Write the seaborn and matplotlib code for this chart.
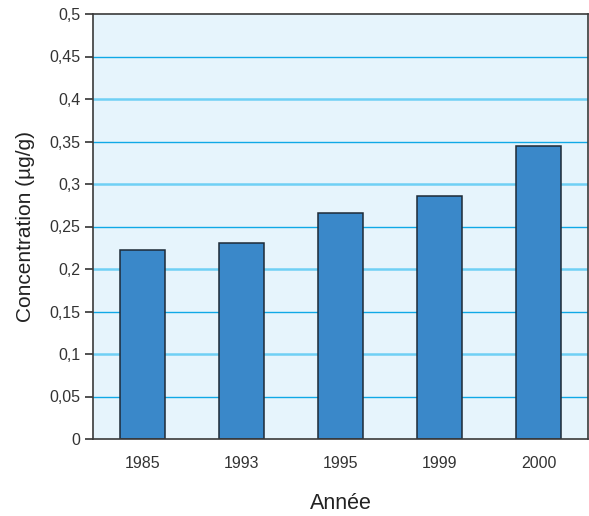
import matplotlib
matplotlib.use("Agg")
import matplotlib.pyplot as plt
from matplotlib.font_manager import fontManager
import seaborn as sns
import pandas as pd

# Concentration par année
annees = ["1985", "1993", "1995", "1999", "2000"]
concentrations = [0.222, 0.231, 0.2655, 0.2855, 0.345]
y_ticks = [0, 0.05, 0.1, 0.15, 0.2, 0.25, 0.3, 0.35, 0.4, 0.45, 0.5]
y_tick_labels = ["0", "0,05", "0,1", "0,15", "0,2", "0,25", "0,3", "0,35", "0,4", "0,45", "0,5"]

df = pd.DataFrame({"Année": annees, "Concentration": concentrations})

sns.set_style("white")
installed = {f.name for f in fontManager.ttflist}
family = "Liberation Sans Narrow" if "Liberation Sans Narrow" in installed else "Liberation Sans"
plt.rcParams["font.family"] = [family, "DejaVu Sans"]

fig = plt.figure(figsize=(5.89, 5.16), dpi=100)
ax = fig.add_axes([93 / 589, 1 - 439 / 516, 495 / 589, 425 / 516])
ax.set_facecolor("#e6f4fc")

# horizontal grid lines: stronger at tenths
for v in y_ticks[1:-1]:
    major = abs(round(v * 10) - v * 10) < 1e-9
    ax.axhline(v, color="#6fd0f5" if major else "#10a8e6",
               lw=1.8 if major else 1.0, zorder=0.5)

sns.barplot(data=df, x="Année", y="Concentration", ax=ax, color="#3a88c9",
            saturation=1, width=0.46, edgecolor="#1e2a36", linewidth=1.1, zorder=2)

ax.set_ylim(0, 0.5)
ax.set_xlim(-0.5, len(annees) - 0.5)
ax.set_yticks(y_ticks)
ax.set_yticklabels(y_tick_labels, fontsize=11.5, color="#333333")
ax.set_xticks(range(len(annees)))
ax.set_xticklabels(annees, fontsize=11.5, color="#333333")
ax.set_xticks([i - 0.5 for i in range(len(annees) + 1)], minor=True)
ax.tick_params(axis="x", which="major", length=0, pad=12)
ax.tick_params(axis="x", which="minor", length=6, width=1.2, color="#333333", direction="out")
ax.tick_params(axis="y", length=6, width=1.2, color="#333333", direction="out", pad=3, left=True)

for s in ax.spines.values():
    s.set_visible(True)
    s.set_color("#3a3a3a")
    s.set_linewidth(1.2)

ax.set_xlabel("Année", fontsize=15.5, color="#222222", labelpad=16)
ax.set_ylabel("Concentration (µg/g)", fontsize=15, color="#222222", labelpad=10)

fig.savefig("out.png", dpi=100)
